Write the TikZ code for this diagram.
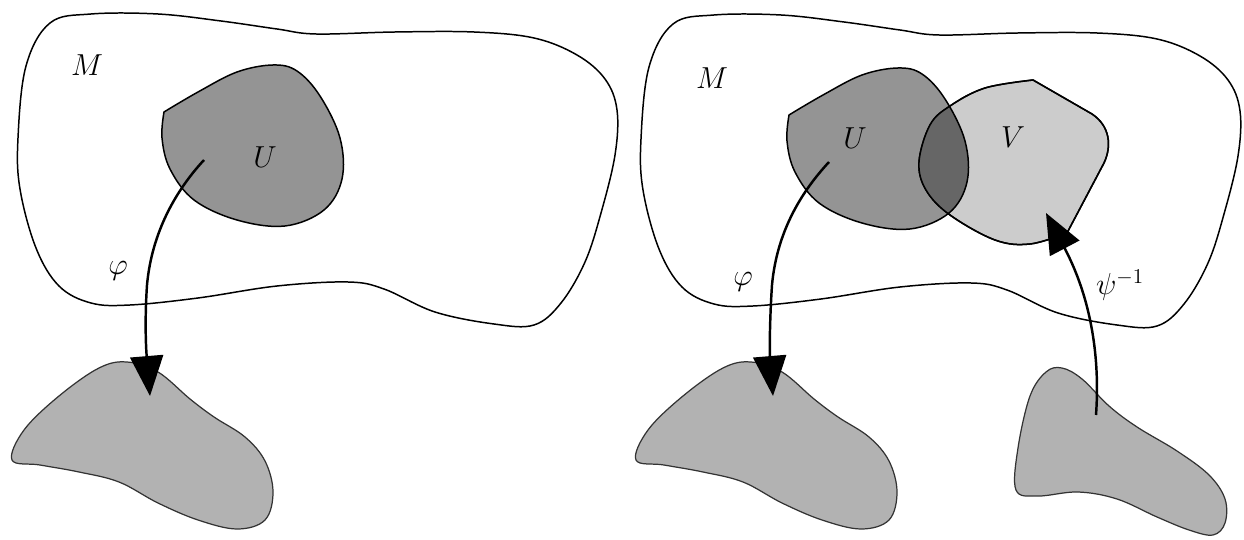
\documentclass[tikz,border=0pt]{standalone}
\usetikzlibrary{arrows.meta}
\begin{document}
\begin{tikzpicture}[x=0.02cm,y=-0.02cm,
  outline/.style={draw=black,line width=0.85pt},
  chartU/.style={fill=black!42,draw=black,line width=0.85pt},
  chartV/.style={fill=black!20,draw=black,line width=0.85pt},
  image/.style={fill=black!30,draw=black!80,line width=0.7pt},
  maparrow/.style={line width=1.4pt,-{Triangle[length=0.8cm,width=0.66cm]}},
  lab/.style={inner sep=0pt,font=\fontsize{18}{20}\selectfont}]
\useasboundingbox (0,0) rectangle (1244,540);
\def\Mpath{plot[smooth cycle,tension=0.6] coordinates {(50,23) (91,14) (158,14) (221,21) (277,29) (316,34) (395,32) (474,32) (534,38) (577,55) (605,79) (617,110) (615,155) (601,213) (585,262) (561,303) (534,325) (494,324) (435,312) (384,289) (348,282) (277,286) (198,298) (130,305) (91,303) (59,286) (36,248) (20,189) (18,138) (26,66)}}
\def\Upath{plot[smooth,tension=0.6] coordinates {(164,112) (198,92) (237,72) (273,65) (297,71) (320,96) (340,138) (342,179) (324,210) (285,226) (237,220) (194,200) (170,169) (162,138) (164,112)} -- cycle}
\def\Vpath{plot[smooth,tension=0.6] coordinates {(1067,233) (1030,244) (995,240) (950,215) (926,190) (919,162) (930,125) (950,106) (985,88) (1033,80)} -- (1092,114) .. controls (1110,126) and (1112,146) .. (1104,163) -- (1067,233) -- cycle}
\def\Bpath{plot[smooth cycle,tension=0.6] coordinates {(12,460) (24,430) (59,396) (99,368) (127,362) (158,372) (190,399) (214,417) (245,437) (265,461) (273,492) (265,520) (237,529) (198,520) (158,503) (119,482) (79,472) (40,465)}}
% ---------- left panel ----------
\draw[outline] \Mpath;
\path[chartU] \Upath;
\draw[image] \Bpath;
\node[lab] (M1) at (87,65) {$M$};
\node[lab] (U1) at (265,157) {$U$};
\node[lab] (phi1) at (118,271) {$\varphi$};
\coordinate (s1) at (204,160);
\coordinate (t1) at (150,396);
\draw[maparrow] (s1) .. controls (178,188) and (152,230) .. (147,285) .. controls (144,330) and (147,360) .. (t1);
% ---------- right panel ----------
\begin{scope}[shift={(623,1)}]
  \draw[outline] \Mpath;
\end{scope}
\begin{scope}[shift={(625,3)}]
  \path[chartU] \Upath;
\end{scope}
\path[chartV] \Vpath;
\begin{scope}
  \clip \Vpath;
  \begin{scope}[shift={(625,3)}]
    \fill[black!60] \Upath;
    \draw[black,line width=0.85pt] \Upath;
  \end{scope}
\end{scope}
\draw[black,line width=0.85pt] \Vpath;
\begin{scope}[shift={(624,0)}]
  \draw[image] \Bpath;
\end{scope}
\draw[image] plot[smooth cycle,tension=0.6] coordinates {(1016,490) (1018,448) (1030,396) (1046,372) (1062,368) (1082,379) (1109,406) (1137,427) (1177,451) (1209,475) (1225,499) (1225,523) (1213,535) (1189,530) (1157,517) (1117,499) (1078,492) (1038,496)};
\node[lab] (M2) at (712,78) {$M$};
\node[lab] (U2) at (855,138) {$U$};
\node[lab] (V2) at (1013,137) {$V$};
\node[lab] (phi2) at (743,282) {$\varphi$};
\node[lab] (psi2) at (1120,285) {$\psi^{-1}$};
\coordinate (s2) at (829,162);
\coordinate (t2) at (773,396);
\draw[maparrow] (s2) .. controls (803,190) and (777,230) .. (772,285) .. controls (769,330) and (770,360) .. (t2);
\coordinate (s3) at (1096,415);
\coordinate (t3) at (1046,213);
\draw[maparrow] (s3) .. controls (1100,360) and (1092,300) .. (t3);
\end{tikzpicture}
\end{document}
